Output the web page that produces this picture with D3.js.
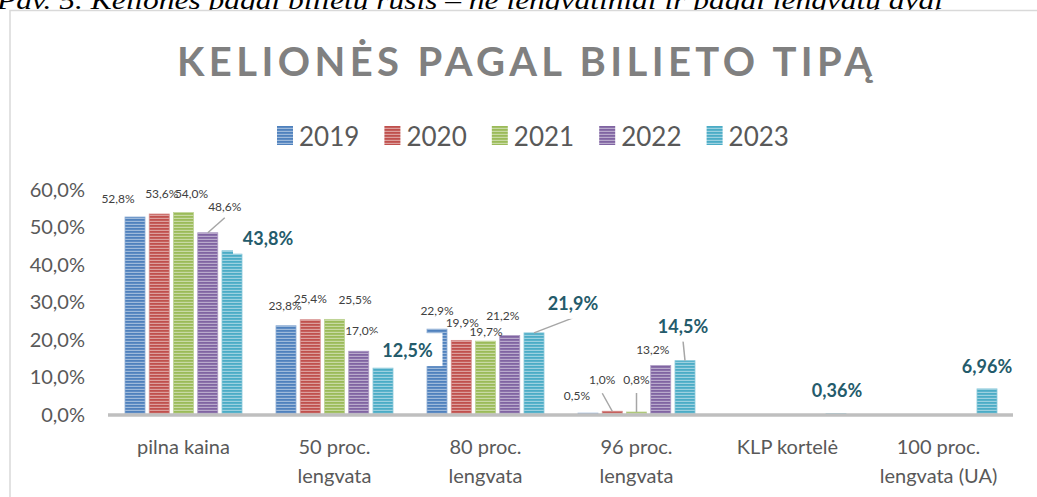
<!DOCTYPE html>
<html>
<head>
<meta charset="utf-8">
<script src="https://cdn.jsdelivr.net/npm/d3@7"></script>
<style>
  body { margin: 0; background: #fff; }
  svg { display: block; }
</style>
</head>
<body>
<div id="chart"></div>
<script>
// Data
const categories = ["pilna kaina", "50 proc. lengvata", "80 proc. lengvata", "96 proc. lengvata", "KLP kortelė", "100 proc. lengvata (UA)"];
const categoryLines = [["pilna kaina"], ["50 proc.", "lengvata"], ["80 proc.", "lengvata"], ["96 proc.", "lengvata"], ["KLP kortelė"], ["100 proc.", "lengvata (UA)"]];
const years = ["2019", "2020", "2021", "2022", "2023"];
const v2019 = [52.8, 23.8, 22.9, 0.5, null, null];
const v2020 = [53.6, 25.4, 19.9, 1.0, null, null];
const v2021 = [54.0, 25.5, 19.7, 0.8, null, null];
const v2022 = [48.6, 17.0, 21.2, 13.2, null, null];
const v2023 = [43.8, 12.5, 21.9, 14.5, 0.36, 6.96];
const yTicks = [0, 10, 20, 30, 40, 50, 60];

const series = [v2019, v2020, v2021, v2022, v2023];
const colors = ["#4f81bd", "#c0504d", "#9bbb59", "#8064a2", "#4bacc6"];

// label placement tweaks (dx, dy from bar top centre), as Excel placed them
const nudge = {
  "0-0": [-17, -19], "0-1": [2.5, -21], "0-2": [8, -19.5], "0-3": [17, -26, 11], "0-4": [36, -13],
  "1-0": [-1, -20], "1-1": [0, -21], "1-2": [20.5, -20], "1-3": [3, -21], "1-4": [24.5, -18],
  "2-0": [0, -19], "2-1": [1, -18], "2-2": [0.5, -10], "2-3": [-7, -20], "2-4": [39, -30, 15],
  "3-0": [-11, -18], "3-1": [-10, -32, 14], "3-2": [0, -33, 14], "3-3": [-8, -16.5], "3-4": [-2, -35, 15],
  "4-4": [1, -24], "5-4": [0, -23]
};

const W = 1037, H = 497;
const svg = d3.select("#chart").append("svg").attr("width", W).attr("height", H);
const defs = svg.append("defs");

colors.forEach((c, i) => {
  const p = defs.append("pattern")
    .attr("id", "stripe" + i)
    .attr("patternUnits", "userSpaceOnUse")
    .attr("width", 6).attr("height", 3);
  p.append("rect").attr("width", 6).attr("height", 3).attr("fill", c);
  p.append("rect").attr("y", 1.8).attr("width", 6).attr("height", 1.2)
    .attr("fill", d3.interpolateRgb(c, "#fff")(0.45));
});

// caption above the frame (cut off at top)
svg.append("text")
  .attr("x", -3).attr("y", 9)
  .attr("textLength", 946).attr("lengthAdjust", "spacingAndGlyphs")
  .style("font-family", "Liberation Serif, serif")
  .style("font-style", "italic")
  .style("font-size", "25px")
  .attr("fill", "#000")
  .text("Pav. 5. Kelionės pagal bilietų rūšis – ne lengvatiniai ir pagal lengvatų dydį");

// chart frame
svg.append("path")
  .attr("d", "M10,497 V10.5 H1037")
  .attr("fill", "#fff").attr("stroke", "#d9d9d9").attr("stroke-width", 1.5);

// title
svg.append("text")
  .attr("x", 177).attr("y", 76)
  .attr("textLength", 695).attr("lengthAdjust", "spacing")
  .style("font-family", "Lato, sans-serif")
  .style("font-weight", "bold")
  .style("font-size", "40px")
  .attr("fill", "#808080")
  .text("KELIONĖS PAGAL BILIETO TIPĄ");

// legend
const legend = svg.append("g");
years.forEach((y, i) => {
  const lx = 277 + i * 107.4;
  legend.append("rect")
    .attr("x", lx).attr("y", 126).attr("width", 16).attr("height", 19)
    .attr("fill", `url(#stripe${i})`);
  legend.append("text")
    .attr("x", lx + 22).attr("y", 136)
    .attr("dominant-baseline", "central")
    .style("font-family", "Lato, sans-serif")
    .style("font-size", "26px")
    .attr("fill", "#595959")
    .text(y);
});

// scales
const x0 = d3.scaleBand().domain(categories).range([108, 1014]);
const x1 = d3.scaleBand().domain(years).range([17, 134]).paddingInner(0.175);
const y = d3.scaleLinear().domain([0, 60]).range([415, 190]);

const fmt1 = d3.formatLocale({ decimal: ",", thousands: " ", grouping: [3], currency: ["", ""] });
const pct = v => (Math.abs(v * 10 - Math.round(v * 10)) > 1e-6 ? fmt1.format(".2f")(v) : fmt1.format(".1f")(v)) + "%";

// y axis labels
const yAxis = svg.append("g").attr("transform", "translate(85,0)")
  .call(d3.axisLeft(y).tickValues(yTicks).tickSize(0).tickPadding(0)
    .tickFormat(d => fmt1.format(".1f")(d) + "%"));
yAxis.select(".domain").remove();
yAxis.selectAll("text")
  .style("font-family", "Lato, sans-serif")
  .style("font-size", "20px")
  .attr("fill", "#595959");

// bars
const bars = [];
categories.forEach((cat, c) => {
  series.forEach((s, j) => {
    if (s[c] == null) return;
    bars.push({ c, j, cat, year: years[j], v: s[c],
      cx: x0(cat) + x1(years[j]) + x1.bandwidth() / 2 });
  });
});

svg.append("g").selectAll("rect")
  .data(bars)
  .join("rect")
  .attr("x", d => x0(d.cat) + x1(d.year))
  .attr("y", d => y(d.v))
  .attr("width", x1.bandwidth())
  .attr("height", d => y(0) - y(d.v))
  .attr("fill", d => `url(#stripe${d.j})`)
  .attr("stroke", d => d3.interpolateRgb(colors[d.j], "#fff")(0.35))
  .attr("stroke-width", 0.8);

// baseline
svg.append("line")
  .attr("x1", 108).attr("x2", 1013)
  .attr("y1", y(0)).attr("y2", y(0))
  .attr("stroke", "#bfbfbf").attr("stroke-width", 3.5);

// category labels
categoryLines.forEach((lines, c) => {
  const t = svg.append("text")
    .attr("x", x0(categories[c]) + x0.bandwidth() / 2)
    .attr("text-anchor", "middle")
    .style("font-family", "Lato, sans-serif")
    .style("font-size", "20px")
    .attr("fill", "#595959");
  lines.forEach((ln, k) => {
    t.append("tspan")
      .attr("x", x0(categories[c]) + x0.bandwidth() / 2)
      .attr("y", 454 + k * 29)
      .text(ln);
  });
});

// data labels
const labelled = bars.filter(d => nudge[`${d.c}-${d.j}`]);
labelled.forEach(d => {
  const n = nudge[`${d.c}-${d.j}`];
  d.lx = d.cx + n[0];
  d.ly = y(d.v) + n[1];
  d.lead = n[2];
  d.bold = d.j === 4;
});

// leader lines
svg.append("g").selectAll("line")
  .data(labelled.filter(d => d.lead))
  .join("line")
  .attr("x1", d => d.lx).attr("y1", d => d.ly + d.lead)
  .attr("x2", d => d.cx).attr("y2", d => y(d.v))
  .attr("stroke", "#a6a6a6").attr("stroke-width", 1.5);

// small labels
svg.append("g").selectAll("text")
  .data(labelled.filter(d => !d.bold))
  .join("text")
  .attr("x", d => d.lx).attr("y", d => d.ly)
  .attr("text-anchor", "middle")
  .attr("dominant-baseline", "central")
  .style("font-family", "Lato, sans-serif")
  .style("font-size", "12px")
  .attr("fill", "#404040")
  .text(d => pct(d.v));

// bold 2023 labels with their white boxes
const big = svg.append("g").selectAll("g")
  .data(labelled.filter(d => d.bold))
  .join("g");
big.append("rect")
  .attr("x", d => d.lx - 35).attr("y", d => d.ly - 17)
  .attr("width", 70).attr("height", 33)
  .attr("fill", "#fff");
big.append("text")
  .attr("x", d => d.lx).attr("y", d => d.ly)
  .attr("text-anchor", "middle")
  .attr("dominant-baseline", "central")
  .style("font-family", "Lato, sans-serif")
  .style("font-weight", "bold")
  .style("font-size", "18px")
  .attr("fill", "#245b6b")
  .text(d => pct(d.v));
</script>
</body>
</html>
